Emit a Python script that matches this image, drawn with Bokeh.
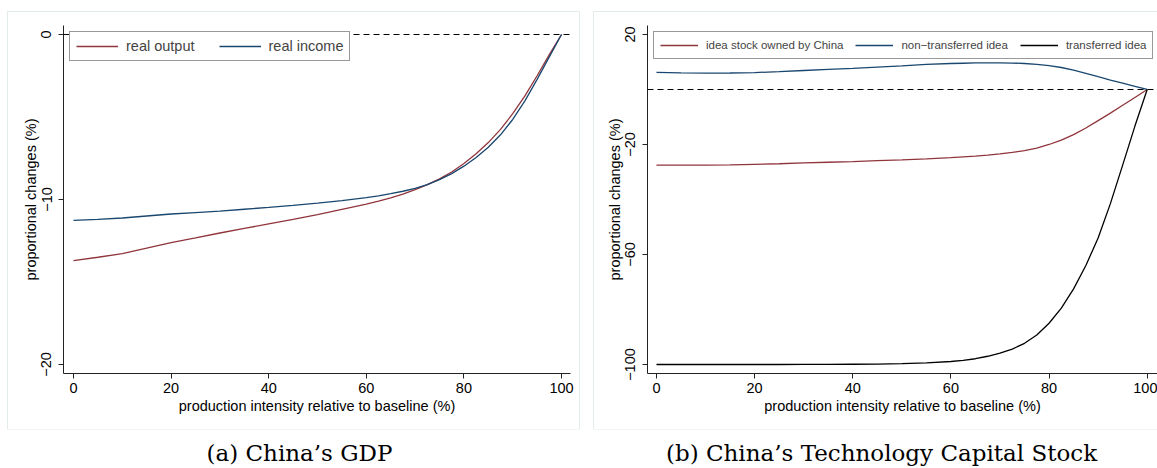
from bokeh.plotting import figure
from bokeh.models import Range1d, FixedTicker, Span, Legend, LegendItem, Label, Spacer
from bokeh.layouts import column, row
from bokeh.embed import file_html
from bokeh.resources import INLINE

# ---------------- data ----------------
intensity = [0, 5, 10, 15, 20, 25, 30, 35, 40, 45, 50, 55, 60, 62.5, 65, 67.5, 70, 72.5,
             75, 77.5, 80, 82.5, 85, 87.5, 90, 92.5, 95, 97.5, 100]

# panel (a) China's GDP
real_output = [-13.70, -13.50, -13.28, -12.95, -12.62, -12.33, -12.03, -11.75, -11.48, -11.21,
               -10.92, -10.60, -10.28, -10.10, -9.90, -9.67, -9.40, -9.10, -8.75, -8.33,
               -7.82, -7.23, -6.55, -5.75, -4.80, -3.72, -2.50, -1.22, 0.0]
real_income = [-11.27, -11.20, -11.12, -11.00, -10.88, -10.79, -10.70, -10.59, -10.48, -10.36,
               -10.22, -10.07, -9.88, -9.78, -9.65, -9.50, -9.32, -9.10, -8.80, -8.43,
               -7.98, -7.45, -6.83, -6.08, -5.15, -4.02, -2.72, -1.36, 0.0]

# panel (b) China's Technology Capital Stock
idea_owned = [-27.5, -27.5, -27.5, -27.4, -27.2, -27.0, -26.7, -26.45, -26.2, -25.9,
              -25.6, -25.25, -24.8, -24.5, -24.2, -23.85, -23.4, -22.9, -22.2, -21.3,
              -20.0, -18.4, -16.4, -14.0, -11.3, -8.6, -5.75, -2.9, 0.0]
non_transferred = [6.2, 6.05, 5.95, 6.0, 6.15, 6.5, 6.9, 7.3, 7.7, 8.15,
                   8.6, 9.1, 9.45, 9.55, 9.65, 9.7, 9.7, 9.62, 9.45, 9.15,
                   8.7, 8.0, 7.05, 5.9, 4.65, 3.45, 2.3, 1.15, 0.0]
transferred = [-100.0, -100.0, -100.0, -100.0, -100.0, -100.0, -99.95, -99.95, -99.9, -99.85,
               -99.7, -99.4, -98.9, -98.5, -97.9, -97.0, -95.9, -94.4, -92.3, -89.3,
               -85.0, -79.5, -72.5, -64.0, -54.0, -41.5, -27.5, -13.3, 0.0]

x_ticks = [0, 20, 40, 60, 80, 100]
y_ticks_a = [-20, -10, 0]
y_ticks_b = [-100, -60, -20, 20]

RED = "#90353b"
BLUE = "#1a476f"
BLACK = "#000000"
FONT = "Liberation Sans"
X_LABEL = "production intensity relative to baseline (%)"
Y_LABEL = "proportional changes (%)"


def style_axes(p, yticks):
    p.xaxis.ticker = FixedTicker(ticks=x_ticks)
    p.yaxis.ticker = FixedTicker(ticks=yticks)
    p.yaxis.major_label_overrides = {t: (str(t).replace("-", "\u2212")) for t in yticks}
    p.yaxis.major_label_orientation = "vertical"
    for ax in p.axis:
        ax.minor_tick_line_color = None
        ax.major_tick_in = 0
        ax.major_tick_out = 5
        ax.axis_line_color = "#222222"
        ax.major_tick_line_color = "#222222"
        ax.major_label_text_font = FONT
        ax.major_label_text_font_size = "14.5px"
        ax.major_label_text_color = "black"
        ax.axis_label_text_font = FONT
        ax.axis_label_text_font_size = "14.5px"
        ax.axis_label_text_font_style = "normal"
        ax.axis_label_text_color = "black"
    p.xaxis.major_label_standoff = 4
    p.xaxis.axis_label_standoff = 2
    p.yaxis.major_label_standoff = 7
    p.yaxis.axis_label_standoff = 0
    p.xaxis.axis_label = X_LABEL
    p.yaxis.axis_label = Y_LABEL
    p.xgrid.visible = False
    p.ygrid.visible = False
    p.outline_line_color = None
    p.background_fill_color = "white"
    p.border_fill_color = "white"


OUTLINE = {"outline": "1px solid #e3ebeb"}

# ---------------- panel (a) ----------------
p1 = figure(width=571, height=417, output_backend="svg", toolbar_location=None,
            x_range=Range1d(-2.05, 101.84), y_range=Range1d(-20.545, 0.545),
            min_border_left=55, min_border_right=9, min_border_top=13, min_border_bottom=56,
            styles=OUTLINE)
style_axes(p1, y_ticks_a)
p1.add_layout(Span(location=0, dimension="width", line_color="black", line_dash="6 4", line_width=1.2))
r_out = p1.line(intensity, real_output, line_color=RED, line_width=1.3)
r_inc = p1.line(intensity, real_income, line_color=BLUE, line_width=1.3)
leg1 = Legend(items=[LegendItem(label="real output", renderers=[r_out]),
                     LegendItem(label="real income", renderers=[r_inc])],
              location="top_left", orientation="horizontal",
              margin=6, padding=6, spacing=24, glyph_width=42, glyph_height=14,
              label_height=14, label_standoff=8,
              label_text_font=FONT, label_text_font_size="14.5px",
              border_line_color="#333333", border_line_width=1,
              background_fill_color="white", background_fill_alpha=1.0)
p1.add_layout(leg1)

# ---------------- panel (b) ----------------
p2 = figure(width=563, height=417, output_backend="svg", toolbar_location=None,
            x_range=Range1d(-1.83, 102.1), y_range=Range1d(-103.27, 23.27),
            min_border_left=53, min_border_right=0, min_border_top=13, min_border_bottom=56,
            styles=OUTLINE)
style_axes(p2, y_ticks_b)
p2.add_layout(Span(location=0, dimension="width", line_color="black", line_dash="6 4", line_width=1.2))
r_own = p2.line(intensity, idea_owned, line_color=RED, line_width=1.3)
r_non = p2.line(intensity, non_transferred, line_color=BLUE, line_width=1.3)
r_tr = p2.line(intensity, transferred, line_color=BLACK, line_width=1.3)
leg2 = Legend(items=[LegendItem(label="idea stock owned by China", renderers=[r_own]),
                     LegendItem(label="non\u2212transferred idea", renderers=[r_non]),
                     LegendItem(label="transferred idea", renderers=[r_tr])],
              location="top_left", orientation="horizontal",
              margin=6, padding=6, spacing=12, glyph_width=38, glyph_height=14,
              label_height=14, label_standoff=8,
              label_text_font=FONT, label_text_font_size="11.5px",
              border_line_color="#333333", border_line_width=1,
              background_fill_color="white", background_fill_alpha=1.0)
p2.add_layout(leg2)

# ---------------- captions ----------------
cap = figure(width=1157, height=39, output_backend="svg", toolbar_location=None,
             x_range=Range1d(0, 1157), y_range=Range1d(0, 39),
             x_axis_location=None, y_axis_location=None, min_border=0)
cap.grid.visible = False
cap.outline_line_color = None
cap.add_layout(Label(x=299, y=16, text="(a) China\u2019s GDP", text_align="center",
                     text_baseline="middle", text_font="DejaVu Serif",
                     text_font_size="23px", text_color="black"))
cap.add_layout(Label(x=881, y=16, text="(b) China\u2019s Technology Capital Stock", text_align="center",
                     text_baseline="middle", text_font="DejaVu Serif",
                     text_font_size="23px", text_color="black"))

layout = column(Spacer(width=10, height=12),
                row(Spacer(width=8, height=10), p1, Spacer(width=15, height=10), p2),
                cap)

open("out.html", "w").write(file_html(layout, INLINE))
